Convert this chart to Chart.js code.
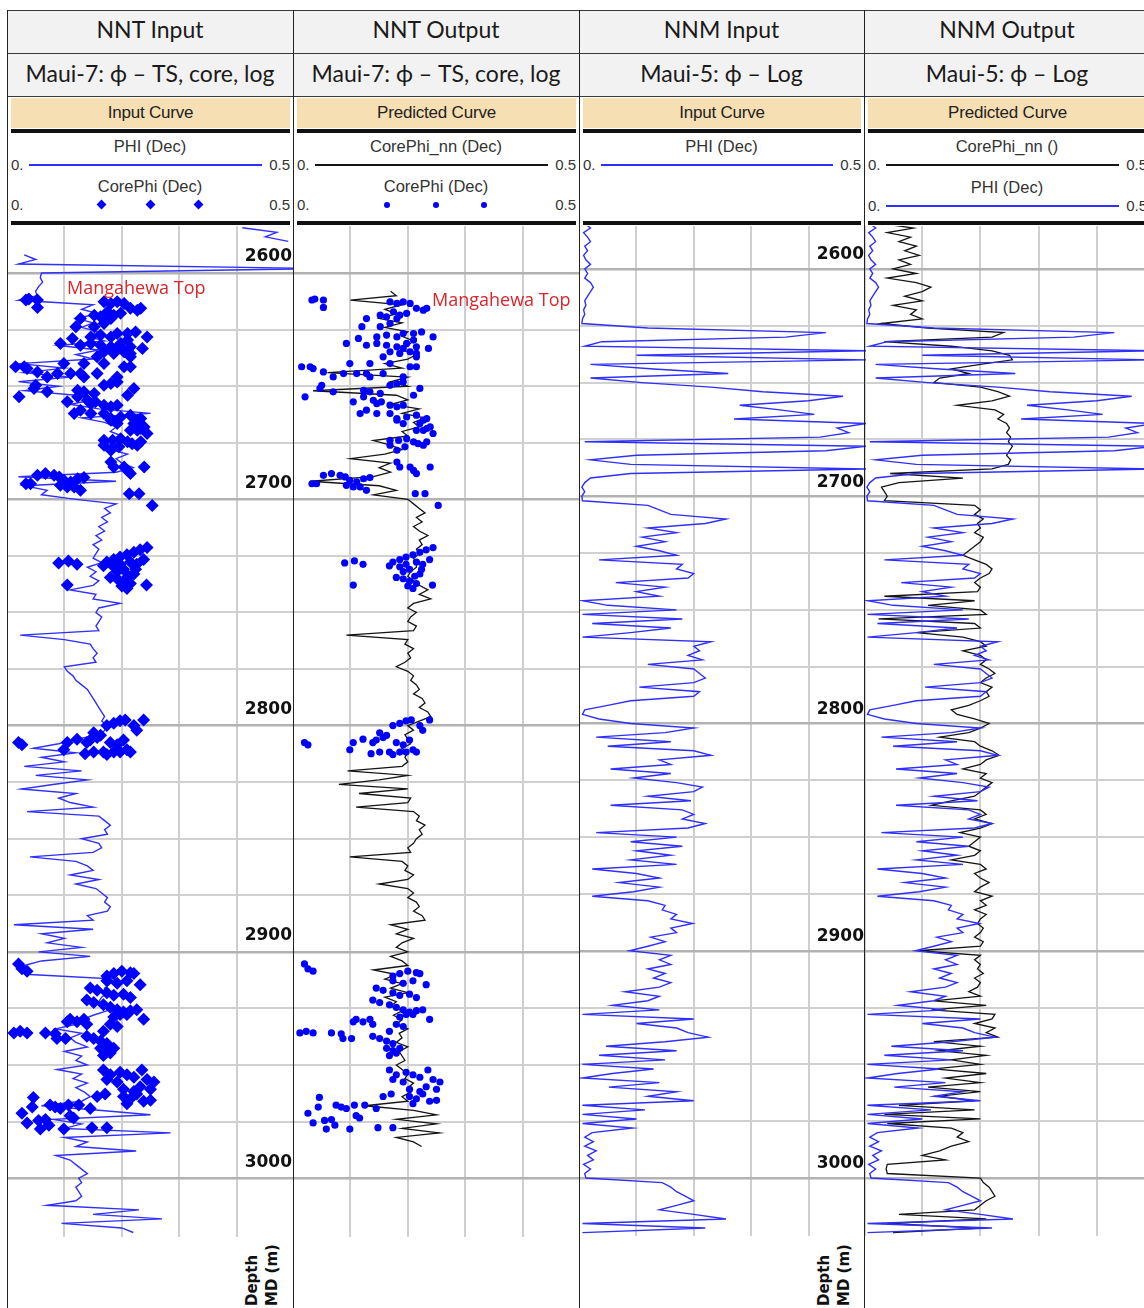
<!DOCTYPE html>
<html lang="en">
<head>
<meta charset="utf-8">
<title>Porosity tracks – Maui-7 and Maui-5</title>
<script src="https://cdn.jsdelivr.net/npm/chart.js@4.4.1/dist/chart.umd.min.js"></script>
<style>
  html, body { margin: 0; padding: 0; background: #fff; }
  body { position: relative; width: 1144px; height: 1308px; overflow: hidden; }
  .cell { position: absolute; box-sizing: border-box; display: flex; align-items: center; justify-content: center;
          background: #f2f2f2; color: #1a1a1a; font-family: Lato, "Noto Sans", sans-serif; white-space: nowrap; }
  .title { font-size: 23px; padding-bottom: 6px; }
  .well { font-size: 23px; padding-bottom: 4px; }
  .hline { position: absolute; height: 1px; background: #3a3a3a; z-index: 6; }
  .vline { position: absolute; width: 1px; background: #222; z-index: 6; }
  .band { position: absolute; top: 98px; height: 30px; background: #f6dfb3; display: flex; align-items: center;
          justify-content: center; font: 17px "Liberation Sans", Arial, sans-serif; color: #222; letter-spacing: -0.2px; }
  .bar { position: absolute; height: 4px; background: #111; }
  .lgname { position: absolute; font: 16.5px "Liberation Sans", Arial, sans-serif; color: #333; text-align: center; white-space: nowrap; }
  .lgnum { position: absolute; font: 15px "Liberation Sans", Arial, sans-serif; color: #333; white-space: nowrap; }
  .lgline { position: absolute; }
  .diamond { position: absolute; width: 7px; height: 7px; background: #0000ff; transform: rotate(45deg); }
  .dot { position: absolute; width: 6px; height: 6px; border-radius: 50%; background: #0000ff; }
  canvas { position: absolute; }
  .note { position: absolute; color: #d9262b; font: 18px "Open Sans", "Noto Sans", sans-serif; white-space: nowrap; z-index: 4; }
  .depth-title { position: absolute; font: bold 15px "DejaVu Sans", sans-serif; color: #111; line-height: 20px;
                 writing-mode: vertical-rl; transform: rotate(180deg); white-space: nowrap; }
</style>
</head>
<body>
<script>
// ---- Log sampling: one value every DEPTH_STEP metres starting at DEPTH_TOP (MD, m) ----
const DEPTH_TOP = 2580;
const DEPTH_STEP = 2;

// Maui-7 PHI log (Dec)
const maui7Phi = [
  0.41, 0.47, 0.45, 0.49, null, null, 0.03, 0.05, 0.02, 0.55,
  0.06, 0.058, 0.062, 0.055, 0.05, 0.052, 0.02, 0.15, 0.13, 0.16,
  0.12, 0.15, 0.13, 0.16, 0.14, 0.17, 0.09, 0.16, 0.12, 0.15,
  0.02, 0.10, 0.03, 0.11, 0.02, 0.09, 0.03, 0.12, 0.15, 0.11,
  0.16, 0.25, 0.13, 0.17, 0.19, 0.18, 0.20, 0.17, 0.19, 0.18,
  0.21, 0.19, 0.20, 0.22, 0.19, 0.02, 0.19, 0.03, 0.07, 0.06,
  0.12, 0.19, 0.17, 0.18, 0.165, 0.175, 0.16, 0.17, 0.155, 0.165,
  0.15, 0.16, 0.155, 0.15, 0.165, 0.14, 0.155, 0.145, 0.16, 0.15,
  0.11, 0.155, 0.15, 0.197, 0.16, 0.155, 0.165, 0.16, 0.155, 0.16,
  0.023, 0.10, 0.145, 0.15, 0.157, 0.15, 0.155, 0.10, 0.105, 0.115,
  0.12, 0.13, 0.14, 0.145, 0.15, 0.155, 0.16, 0.165, 0.17, 0.165,
  0.175, 0.17, 0.165, 0.12, 0.09, 0.046, 0.12, 0.06, 0.10, 0.03,
  0.13, 0.05, 0.14, 0.08, 0.025, 0.12, 0.09, 0.11, 0.15, 0.035,
  0.16, 0.17, 0.18, 0.17, 0.175, 0.13, 0.16, 0.165, 0.15, 0.04,
  0.12, 0.14, 0.15, 0.11, 0.16, 0.12, 0.155, 0.165, 0.175, 0.17,
  0.18, 0.175, 0.14, 0.15, 0.012, 0.15, 0.06, 0.10, 0.07, 0.13,
  0.055, 0.145, 0.06, 0.03, 0.035, 0.04, 0.19, 0.18, 0.17, 0.175,
  0.165, 0.16, 0.17, 0.175, 0.15, 0.13, 0.12, 0.085, 0.13, 0.11,
  0.12, 0.14, 0.10, 0.13, 0.12, 0.14, 0.087, 0.13, 0.115, 0.14,
  0.12, 0.135, 0.145, 0.13, 0.06, 0.16, 0.25, 0.08, 0.13, 0.10,
  0.285, 0.10, 0.14, 0.12, 0.225, 0.085, 0.11, 0.12, 0.13, 0.14,
  0.125, 0.13, 0.12, 0.125, 0.13, 0.12, 0.07, 0.23, 0.15, 0.27,
  0.095, 0.20, 0.22
];

// Maui-7 CorePhi_nn, network prediction (Dec)
const maui7PhiNN = [
  null, null, null, null, null, null, null, null, null, null,
  null, null, null, null, 0.17, 0.18, 0.10, 0.19, 0.16, 0.18,
  0.15, 0.19, 0.16, 0.20, 0.19, 0.21, 0.20, 0.19, 0.215, 0.20,
  0.16, 0.19, 0.06, 0.20, 0.17, 0.20, 0.035, 0.18, 0.20, 0.17,
  0.22, 0.19, 0.23, 0.21, 0.22, 0.19, 0.20, 0.14, 0.17, 0.19,
  0.16, 0.10, 0.17, 0.15, 0.17, 0.14, 0.03, 0.15, 0.18, 0.14,
  0.20, 0.21, 0.22, 0.23, 0.215, 0.225, 0.21, 0.22, 0.235, 0.22,
  0.225, 0.215, 0.22, 0.21, 0.215, 0.215, 0.205, 0.20, 0.21, 0.22,
  0.235, 0.22, 0.24, 0.21, 0.20, 0.215, 0.205, 0.20, 0.215, 0.21,
  0.093, 0.20, 0.195, 0.21, 0.20, 0.205, 0.195, 0.18, 0.20, 0.21,
  0.205, 0.215, 0.22, 0.21, 0.225, 0.23, 0.22, 0.235, 0.24, 0.22,
  0.20, 0.21, 0.195, 0.20, 0.205, 0.19, 0.20, 0.195, 0.20, 0.19,
  0.095, 0.20, 0.15, 0.08, 0.20, 0.115, 0.205, 0.20, 0.11, 0.21,
  0.22, 0.215, 0.23, 0.22, 0.225, 0.215, 0.21, 0.20, 0.205, 0.099,
  0.19, 0.20, 0.195, 0.21, 0.20, 0.15, 0.20, 0.21, 0.20, 0.215,
  0.22, 0.21, 0.225, 0.23, 0.17, 0.20, 0.18, 0.21, 0.19, 0.18,
  0.20, 0.17, 0.19, 0.20, 0.14, 0.18, 0.16, 0.19, 0.17, 0.20,
  0.16, 0.18, 0.17, 0.19, 0.175, 0.19, 0.18, 0.20, 0.185, 0.19,
  0.18, 0.20, 0.185, 0.19, 0.195, 0.18, 0.19, 0.20, 0.195, 0.21,
  0.20, 0.205, 0.19, 0.20, 0.125, 0.21, 0.25, 0.18, 0.25, 0.19,
  0.255, 0.18, 0.21, 0.224, null, null, null, null, null, null,
  null, null, null, null, null, null, null, null, null, null,
  null, null, null
];

// Maui-5 PHI log (Dec)
const maui5Phi = [
  0.01, 0.02, 0.008, 0.015, 0.02, 0.01, 0.015, 0.008, 0.012, 0.02,
  0.01, 0.015, 0.01, 0.02, 0.025, 0.02, 0.015, 0.01, 0.012, 0.008,
  0.01, 0.006, 0.005, 0.12, 0.43, 0.36, 0.04, 0.01, 0.50, 0.10,
  0.50, 0.02, 0.13, 0.26, 0.02, 0.11, 0.23, 0.32, 0.46, 0.40,
  0.28, 0.35, 0.41, 0.27, 0.50, 0.45, 0.47, 0.42, 0.01, 0.50,
  0.43, 0.10, 0.02, 0.09, 0.50, 0.09, 0.02, 0.01, 0.005, 0.01,
  0.005, 0.006, 0.12, 0.14, 0.16, 0.256, 0.22, 0.12, 0.17, 0.11,
  0.15, 0.10, 0.14, 0.17, 0.035, 0.18, 0.17, 0.20, 0.19, 0.064,
  0.15, 0.10, 0.14, 0.006, 0.05, 0.17, 0.006, 0.18, 0.023, 0.16,
  0.09, 0.006, 0.23, 0.20, 0.21, 0.19, 0.215, 0.12, 0.20, 0.21,
  0.22, 0.20, 0.105, 0.21, 0.20, 0.09, 0.05, 0.01, 0.006, 0.035,
  0.09, 0.20, 0.15, 0.03, 0.16, 0.05, 0.20, 0.23, 0.14, 0.16,
  0.055, 0.16, 0.095, 0.17, 0.215, 0.20, 0.12, 0.195, 0.055, 0.18,
  0.20, 0.18, 0.22, 0.19, 0.03, 0.17, 0.09, 0.18, 0.10, 0.16,
  0.09, 0.17, 0.023, 0.10, 0.14, 0.07, 0.14, 0.095, 0.023, 0.12,
  0.15, 0.145, 0.17, 0.16, 0.198, 0.16, 0.17, 0.125, 0.15, 0.12,
  0.088, 0.16, 0.14, 0.16, 0.12, 0.15, 0.13, 0.16, 0.14, 0.08,
  0.14, 0.12, 0.058, 0.14, 0.006, 0.20, 0.10, 0.17, 0.19, 0.225,
  0.15, 0.047, 0.17, 0.035, 0.15, 0.006, 0.13, 0.058, 0.006, 0.14,
  0.052, 0.17, 0.12, 0.20, 0.006, 0.115, 0.006, 0.10, 0.006, 0.093,
  0.023, 0.01, 0.025, 0.01, 0.03, 0.015, 0.025, 0.008, 0.02, 0.01,
  0.012, 0.145, 0.16, 0.17, 0.185, 0.20, 0.17, 0.14, 0.20, 0.256,
  0.006, 0.22, 0.006
];

// Maui-5 CorePhi_nn, network prediction
const maui5PhiNN = [
  0.03, 0.085, 0.04, 0.08, 0.06, 0.09, 0.07, 0.095, 0.06, 0.08,
  0.05, 0.09, 0.04, 0.09, 0.115, 0.10, 0.07, 0.10, 0.05, 0.09,
  0.08, 0.10, 0.03, 0.11, 0.24, 0.22, 0.035, 0.15, 0.22, 0.25,
  0.255, 0.20, 0.15, 0.18, 0.13, 0.12, 0.20, 0.23, 0.25, 0.22,
  0.16, 0.225, 0.24, 0.23, 0.245, 0.25, 0.245, 0.252, 0.248, 0.255,
  0.25, 0.245, 0.252, 0.248, 0.22, 0.045, 0.17, 0.06, 0.03, 0.035,
  0.04, 0.035, 0.19, 0.20, 0.19, 0.205, 0.195, 0.20, 0.19, 0.205,
  0.20, 0.19, 0.18, 0.17, 0.19, 0.21, 0.22, 0.215, 0.20, 0.19,
  0.20, 0.195, 0.035, 0.19, 0.11, 0.20, 0.21, 0.025, 0.19, 0.20,
  0.09, 0.17, 0.20, 0.21, 0.17, 0.20, 0.21, 0.20, 0.215, 0.225,
  0.21, 0.20, 0.22, 0.21, 0.215, 0.20, 0.18, 0.15, 0.16, 0.19,
  0.215, 0.20, 0.18, 0.13, 0.19, 0.20, 0.22, 0.232, 0.21, 0.20,
  0.17, 0.21, 0.20, 0.22, 0.21, 0.20, 0.19, 0.15, 0.116, 0.20,
  0.21, 0.19, 0.22, 0.20, 0.165, 0.20, 0.19, 0.18, 0.20, 0.19,
  0.15, 0.20, 0.21, 0.19, 0.20, 0.215, 0.20, 0.19, 0.22, 0.20,
  0.21, 0.19, 0.21, 0.20, 0.195, 0.205, 0.20, 0.19, 0.205, 0.20,
  0.093, 0.20, 0.19, 0.20, 0.195, 0.205, 0.19, 0.20, 0.195, 0.18,
  0.20, 0.12, 0.21, 0.116, 0.225, 0.22, 0.19, 0.225, 0.21, 0.23,
  0.12, 0.20, 0.13, 0.21, 0.15, 0.20, 0.12, 0.21, 0.14, 0.20,
  0.11, 0.20, 0.13, 0.19, 0.06, 0.19, 0.035, 0.20, 0.04, 0.15,
  0.17, 0.16, 0.18, 0.15, 0.13, 0.10, 0.14, 0.04, 0.038, 0.04,
  0.20, 0.205, 0.215, 0.22, 0.225, 0.21, 0.20, 0.19, 0.06, 0.21,
  0.04, 0.20, 0.05
];

// Maui-7 core plug porosity: sample depth (m) and CorePhi (Dec)
const coreDepth = [
  2611.9, 2611.5, 2611.9, 2615.2, 2612.7, 2613.4, 2612.7, 2613.4, 2615.6, 2616.4,
  2615.6, 2617.1, 2618.6, 2617.8, 2619.3, 2620.1, 2620.1, 2623.7, 2618.6, 2623.7,
  2622.3, 2628.2, 2627.4, 2628.2, 2626.7, 2626.7, 2626.0, 2628.2, 2629.6, 2631.1,
  2632.6, 2633.3, 2634.8, 2635.5, 2634.8, 2631.1, 2628.9, 2631.1, 2631.9, 2631.9,
  2632.6, 2633.3, 2635.5, 2637.0, 2640.0, 2640.0, 2637.0, 2641.4, 2644.4, 2644.4,
  2645.9, 2640.0, 2643.7, 2642.2, 2641.4, 2641.4, 2645.9, 2644.4, 2644.4, 2645.9,
  2641.4, 2649.6, 2651.0, 2652.5, 2651.8, 2652.5, 2653.2, 2649.6, 2648.8, 2648.1,
  2651.0, 2654.0, 2654.7, 2654.7, 2656.2, 2656.9, 2662.1, 2660.6, 2657.7, 2656.9,
  2658.4, 2659.1, 2658.4, 2662.1, 2662.1, 2664.3, 2663.6, 2662.8, 2665.0, 2664.3,
  2666.5, 2668.7, 2670.9, 2669.5, 2669.5, 2668.0, 2665.0, 2666.5, 2673.9, 2673.9,
  2673.2, 2674.6, 2675.4, 2676.1, 2674.6, 2676.1, 2678.3, 2676.8, 2683.5, 2685.7,
  2685.7, 2687.2, 2685.7, 2688.6, 2689.4, 2688.6, 2689.4, 2690.1, 2691.6, 2692.3,
  2690.9, 2690.4, 2694.5, 2694.5, 2696.0, 2693.1, 2693.1, 2693.8, 2697.5, 2697.5,
  2702.7,
  2728.1, 2727.2, 2728.7, 2737.9, 2729.4, 2727.7, 2726.6, 2725.5, 2724.5, 2723.4,
  2722.3, 2721.3, 2726.6, 2728.7, 2727.7, 2730.9, 2731.9, 2734.5, 2735.1, 2736.2,
  2737.2, 2733.0, 2738.3, 2739.4, 2737.9, 2730.9, 2734.0, 2728.7, 2729.8,
  2800.0, 2799.0, 2797.9, 2797.5, 2800.0, 2797.5, 2802.1, 2803.2, 2805.3, 2804.3,
  2806.4, 2807.5, 2806.0, 2807.5, 2810.7, 2812.4, 2811.7, 2811.7, 2812.8, 2811.7,
  2811.7, 2810.7, 2811.7, 2808.5, 2806.4, 2807.5, 2808.5, 2807.5,
  2905.3, 2907.5, 2908.5, 2910.7, 2909.6, 2908.5, 2909.2, 2909.6, 2912.8, 2913.9,
  2912.8, 2914.5, 2916.0, 2917.0, 2918.1, 2919.2, 2918.7, 2920.2, 2921.3, 2922.4,
  2923.4, 2924.5, 2925.6, 2926.6, 2926.0, 2925.6, 2929.8, 2927.7, 2927.7, 2928.8,
  2929.8, 2929.8, 2930.9, 2930.9,
  2935.8, 2935.1, 2935.8, 2935.8, 2936.2, 2938.3, 2938.3, 2937.3, 2938.3, 2939.4,
  2940.5, 2942.6, 2932.0, 2935.1, 2932.0, 2933.0, 2943.6, 2944.7, 2945.8, 2942.6,
  2952.2, 2954.3, 2953.2, 2954.3, 2955.4, 2952.2, 2956.4, 2957.5, 2960.7, 2959.6,
  2961.7, 2960.7, 2957.5, 2956.4, 2962.8, 2963.9, 2963.9, 2964.9, 2962.8, 2966.0,
  2965.6, 2967.1,
  2964.3, 2968.6, 2971.3, 2975.6, 2974.5, 2974.1, 2976.6, 2978.3, 2967.7, 2968.6,
  2969.2, 2967.7, 2967.7, 2972.4, 2973.4, 2969.2, 2978.3, 2977.7, 2977.7
];
const corePhi = [
  0.033, 0.038, 0.053, 0.053, 0.169, 0.181, 0.192, 0.204, 0.215, 0.227,
  0.233, 0.175, 0.186, 0.198, 0.163, 0.181, 0.128, 0.120, 0.152, 0.152,
  0.169, 0.146, 0.163, 0.181, 0.192, 0.210, 0.224, 0.244, 0.210, 0.198,
  0.215, 0.236, 0.204, 0.186, 0.169, 0.146, 0.114, 0.093, 0.128, 0.163,
  0.181, 0.192, 0.215, 0.157, 0.134, 0.169, 0.215, 0.204, 0.128, 0.157,
  0.192, 0.099, 0.053, 0.035, 0.015, 0.030, 0.070, 0.088, 0.111, 0.134,
  0.215, 0.050, 0.047, 0.070, 0.123, 0.134, 0.152, 0.169, 0.181, 0.192,
  0.221, 0.210, 0.021, 0.123, 0.140, 0.105, 0.117, 0.128, 0.146, 0.154,
  0.169, 0.181, 0.192, 0.146, 0.169, 0.181, 0.198, 0.215, 0.227, 0.233,
  0.221, 0.233, 0.244, 0.227, 0.215, 0.239, 0.181, 0.192, 0.169, 0.184,
  0.198, 0.210, 0.218, 0.227, 0.233, 0.169, 0.181, 0.195, 0.181, 0.186,
  0.204, 0.210, 0.239, 0.215, 0.053, 0.067, 0.082, 0.091, 0.099, 0.111,
  0.123, 0.134, 0.105, 0.117, 0.128, 0.033, 0.041, 0.093, 0.213, 0.230,
  0.253,
  0.090, 0.107, 0.122, 0.105, 0.168, 0.174, 0.186, 0.197, 0.209, 0.221,
  0.232, 0.244, 0.238, 0.226, 0.215, 0.203, 0.192, 0.180, 0.192, 0.203,
  0.215, 0.221, 0.200, 0.209, 0.243, 0.224, 0.212, 0.197, 0.186,
  0.174, 0.186, 0.197, 0.206, 0.221, 0.238, 0.226, 0.151, 0.157, 0.163,
  0.145, 0.139, 0.122, 0.105, 0.099, 0.136, 0.151, 0.168, 0.174, 0.186,
  0.197, 0.209, 0.215, 0.192, 0.203, 0.180, 0.026, 0.020,
  0.020, 0.026, 0.035, 0.174, 0.186, 0.200, 0.215, 0.221, 0.174, 0.192,
  0.209, 0.232, 0.145, 0.157, 0.174, 0.186, 0.203, 0.215, 0.139, 0.151,
  0.168, 0.180, 0.192, 0.203, 0.215, 0.226, 0.238, 0.197, 0.209, 0.186,
  0.134, 0.110, 0.122, 0.105,
  0.012, 0.023, 0.035, 0.067, 0.084, 0.087, 0.102, 0.139, 0.151, 0.163,
  0.174, 0.186, 0.139, 0.168, 0.180, 0.192, 0.174, 0.180, 0.168, 0.163,
  0.168, 0.180, 0.197, 0.209, 0.221, 0.235, 0.244, 0.256, 0.250, 0.232,
  0.221, 0.203, 0.192, 0.174, 0.171, 0.157, 0.203, 0.215, 0.226, 0.238,
  0.250, 0.209,
  0.046, 0.044, 0.026, 0.035, 0.055, 0.067, 0.073, 0.058, 0.075, 0.084,
  0.093, 0.107, 0.125, 0.110, 0.116, 0.145, 0.099, 0.148, 0.174
];

// Depth tick labels and axis range
const depthTickLabels = [2600, 2700, 2800, 2900, 3000];
const phiRange = [0, 0.5];

// ---- Page layout ----
const BLUE = '#2f2fff';
const BLACK = '#151515';
const edges = [7, 293, 579, 864, 1150];
const PLOT_TOP = 226;

const tracks = [
  { title: 'NNT Input',  well: 'Maui-7: ϕ – TS, core, log', band: 'Input Curve',     plotW: 287, gap: 39.5,
    legend: [{ name: 'PHI (Dec)', kind: 'line', color: BLUE }, { name: 'CorePhi (Dec)', kind: 'diamond' }] },
  { title: 'NNT Output', well: 'Maui-7: ϕ – TS, core, log', band: 'Predicted Curve', plotW: 287, gap: 39.5,
    legend: [{ name: 'CorePhi_nn (Dec)', kind: 'line', color: BLACK }, { name: 'CorePhi (Dec)', kind: 'dot' }] },
  { title: 'NNM Input',  well: 'Maui-5: ϕ – Log',           band: 'Input Curve',     plotW: 287, gap: 40,
    legend: [{ name: 'PHI (Dec)', kind: 'line', color: BLUE }] },
  { title: 'NNM Output', well: 'Maui-5: ϕ – Log',           band: 'Predicted Curve', plotW: 291, gap: 41,
    legend: [{ name: 'CorePhi_nn ()', kind: 'line', color: BLACK }, { name: 'PHI (Dec)', kind: 'line', color: BLUE }] }
];

function el(cls, style, html) {
  const d = document.createElement('div');
  d.className = cls;
  for (const k in style) d.style[k] = typeof style[k] === 'number' ? style[k] + 'px' : style[k];
  if (html !== undefined) d.innerHTML = html;
  document.body.appendChild(d);
  return d;
}

// header rows, bands and legends
tracks.forEach((t, i) => {
  const x0 = edges[i], x1 = edges[i + 1], w = x1 - x0;
  el('cell title', { left: x0, top: 10, width: w, height: 43 }, t.title);
  el('cell well', { left: x0, top: 53, width: w, height: 43 }, t.well);
  el('band', { left: x0 + 4, width: w - 7 }, t.band);
  el('bar', { left: x0 + 4, width: w - 7, top: 129 });
  el('bar', { left: x0 + 4, width: w - 7, top: 221 });
  t.legend.forEach((g, j) => {
    const nameY = 137 + j * t.gap;
    const rowY = 165 + j * t.gap;
    el('lgname', { left: x0, width: w, top: nameY }, g.name);
    el('lgnum', { left: x0 + 4, top: rowY - 9 }, '0.');
    el('lgnum', { left: x1 - 40, width: 37, top: rowY - 9, textAlign: 'right' }, '0.5');
    if (g.kind === 'line') {
      el('lgline', { left: x0 + 22, width: w - 53, top: rowY - 1, height: g.color === BLUE ? 2 : 1.5, background: g.color });
    } else {
      [94, 143, 191].forEach(dx => {
        if (g.kind === 'diamond') el('diamond', { left: x0 + dx - 3.5, top: rowY - 3.5 });
        else el('dot', { left: x0 + dx - 3, top: rowY - 3 });
      });
    }
  });
});

function pairs(values) {
  return values.map((v, i) => ({ x: v, y: DEPTH_TOP + i * DEPTH_STEP }));
}
function corePairs() {
  return coreDepth.map((d, i) => ({ x: corePhi[i], y: d }));
}
function curve(values, color, width) {
  return { data: pairs(values), showLine: true, borderColor: color, borderWidth: width,
           pointRadius: 0, pointHoverRadius: 0, spanGaps: false };
}

function makeTrack(i, yMin, yMax, height, datasets, withLabels, labelShift) {
  const c = document.createElement('canvas');
  c.width = tracks[i].plotW;
  c.height = height;
  c.style.left = edges[i] + 'px';
  c.style.top = PLOT_TOP + 'px';
  document.body.appendChild(c);
  return new Chart(c, {
    type: 'scatter',
    data: { datasets },
    options: {
      responsive: false, animation: false, devicePixelRatio: 1, events: [],
      layout: { padding: 0, autoPadding: false },
      plugins: { legend: { display: false }, tooltip: { enabled: false } },
      scales: {
        x: {
          type: 'linear', position: 'top', min: phiRange[0], max: phiRange[1],
          ticks: { display: false, stepSize: 0.1 },
          grid: { color: '#cfcfcf', lineWidth: 2, drawTicks: false },
          border: { display: false },
          afterFit: s => { s.height = 0; s.paddingLeft = 0; s.paddingRight = 0; }
        },
        y: {
          type: 'linear', position: 'right', reverse: true, min: yMin, max: yMax,
          afterBuildTicks: s => { s.ticks = s.ticks.filter(t => Math.abs(t.value % 25) < 1e-6); },
          ticks: {
            display: withLabels, stepSize: 25, mirror: true, padding: -2, labelOffset: labelShift,
            callback: v => (depthTickLabels.includes(v) ? String(v) : ''),
            font: { family: 'DejaVu Sans', size: 17, weight: 'bold' }, color: '#111'
          },
          grid: {
            color: ctx => (ctx.tick && ctx.tick.value % 100 === 0 ? '#b2b2b2' : '#d0d0d0'),
            lineWidth: ctx => (ctx.tick && ctx.tick.value % 100 === 0 ? 2.5 : 2),
            drawTicks: false
          },
          border: { display: false },
          afterFit: s => { s.width = 0; s.paddingTop = 0; s.paddingBottom = 0; }
        }
      }
    }
  });
}

// Maui-7 tracks
makeTrack(0, 2579.2, 3026, 1011, [
  { data: corePairs(), pointStyle: 'rectRot', pointRadius: 6.5, pointBorderWidth: 0, backgroundColor: '#0000ff', showLine: false },
  curve(maui7Phi, BLUE, 1.4)
], true, -16);
makeTrack(1, 2579.2, 3026, 1011, [
  { data: corePairs(), pointStyle: 'circle', pointRadius: 3.6, pointBorderWidth: 0, backgroundColor: '#0000ff', showLine: false },
  curve(maui7PhiNN, BLACK, 1.3)
], false, -16);
// Maui-5 tracks
makeTrack(2, 2581.1, 3025.5, 1010, [
  curve(maui5Phi, BLUE, 1.4)
], true, -14);
makeTrack(3, 2581.1, 3025.5, 1010, [
  curve(maui5Phi, BLUE, 1.4),
  curve(maui5PhiNN, BLACK, 1.3)
], false, -14);

// formation top annotations
el('note', { left: 67, top: 275 }, 'Mangahewa Top');
el('note', { left: 432, top: 287 }, 'Mangahewa Top');

// depth axis titles
el('depth-title', { left: 242, top: 1238, height: 68 }, 'Depth<br>MD (m)');
el('depth-title', { left: 814, top: 1238, height: 68 }, 'Depth<br>MD (m)');

// frame lines
el('hline', { left: 7, width: 1137, top: 10 });
el('hline', { left: 7, width: 1137, top: 53 });
el('hline', { left: 7, width: 1137, top: 96 });
edges.slice(0, 4).forEach(x => el('vline', { left: x, top: 10, height: 1298 }));
</script>
</body>
</html>
